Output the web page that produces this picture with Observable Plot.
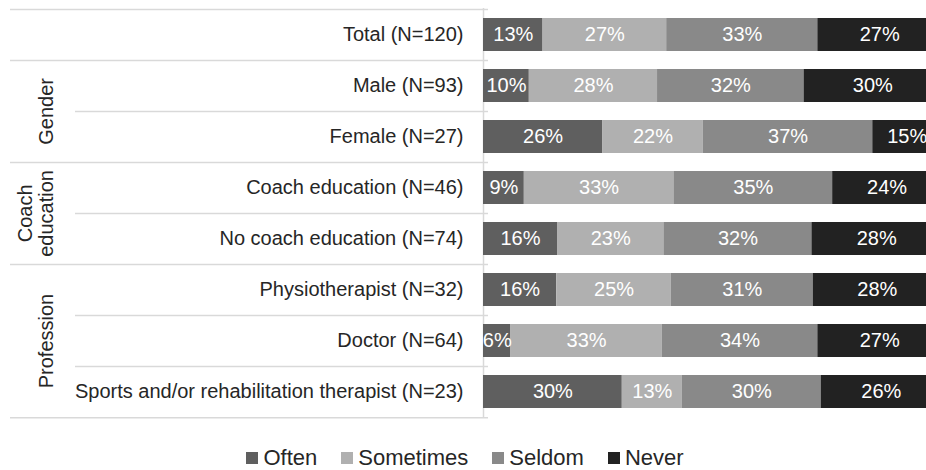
<!DOCTYPE html>
<html>
<head>
<meta charset="utf-8">
<script src="https://cdn.jsdelivr.net/npm/d3@7"></script>
<script src="https://cdn.jsdelivr.net/npm/@observablehq/plot@0.6"></script>
<style>
  html, body { margin: 0; padding: 0; background: white; }
  #wrap { width: 926px; overflow: hidden; font-family: "Liberation Sans", Arial, sans-serif; color: #262626; }
  #legend { display: flex; justify-content: center; align-items: center; margin-top: 17px; font-size: 22px; line-height: 22px; height: 22px; padding-left: 4px; }
  #legend .item { display: inline-flex; align-items: center; margin-right: 24px; }
  #legend .item:last-child { margin-right: 0; }
  #legend .sw { display: inline-block; width: 12px; height: 12px; margin-right: 5px; }
</style>
</head>
<body>
<div id="wrap"><div id="chart"></div><div id="legend"></div></div>
<script>
// ---- data ----
const categories = [
  "Total (N=120)",
  "Male (N=93)",
  "Female (N=27)",
  "Coach education (N=46)",
  "No coach education (N=74)",
  "Physiotherapist (N=32)",
  "Doctor (N=64)",
  "Sports and/or rehabilitation therapist (N=23)"
];
const groupOf = [null, "Gender", "Gender", "Coach\neducation", "Coach\neducation", "Profession", "Profession", "Profession"];
const responses = ["Often", "Sometimes", "Seldom", "Never"];
const often     = [13, 10, 26,  9, 16, 16,  6, 30];
const sometimes = [27, 28, 22, 33, 23, 25, 33, 13];
const seldom    = [33, 32, 37, 35, 32, 31, 34, 30];
const never     = [27, 30, 15, 24, 28, 28, 27, 26];
const colors = ["#5f5f5f", "#b0b0b0", "#898989", "#222222"];

// ---- layout ----
const W = 926, H = 430, mTop = 8, mBottom = 12, mLeft = 483, mRight = -15;
const step = (H - mTop - mBottom) / categories.length;
const px = p => (p - mLeft) / (W - mRight - mLeft); // pixel -> x-scale value
const gridColor = "#d9d9d9";
const fs = 20;

const series = [often, sometimes, seldom, never];
const rows = [];
categories.forEach((c, i) => responses.forEach((r, j) => rows.push({cat: c, resp: r, value: series[j][i]})));

// separators: top of each row, full width at group boundaries
const seps = categories.map((c, i) => ({cat: c, full: i === 0 || groupOf[i] !== groupOf[i - 1]}));
const bottomSep = [{cat: categories[categories.length - 1], full: true}];

// group labels
const groups = [];
groupOf.forEach((g, i) => {
  if (!g) return;
  let G = groups.find(d => d.name === g);
  if (!G) { G = {name: g, first: i, last: i}; groups.push(G); } else G.last = i;
});
groups.forEach(G => {
  const m = (G.first + G.last) / 2;
  G.half = !Number.isInteger(m);
  G.cat = categories[Math.ceil(m)];
  G.multi = G.name.includes("\n");
});

const chart = Plot.plot({
  width: W, height: H,
  marginTop: mTop, marginBottom: mBottom, marginLeft: mLeft, marginRight: mRight,
  style: {fontFamily: '"Liberation Sans", Arial, sans-serif', fontSize: fs + "px", color: "#262626", background: "white"},
  x: {domain: [0, 1], axis: null},
  y: {domain: categories, paddingInner: 0.35, paddingOuter: 0.175, tickSize: 0, tickPadding: 20, label: null},
  color: {domain: responses, range: colors},
  marks: [
    Plot.ruleY(seps, {y: "cat", x1: d => px(d.full ? 10 : 75), x2: px(488), dy: -step / 2, stroke: gridColor, strokeWidth: 1.5}),
    Plot.ruleY(bottomSep, {y: "cat", x1: d => px(10), x2: px(488), dy: step / 2, stroke: gridColor, strokeWidth: 1.5}),
    Plot.ruleX([0], {stroke: gridColor, strokeWidth: 1.5}),
    Plot.barX(rows, Plot.stackX({x: "value", y: "cat", fill: "resp", order: responses, offset: "normalize"})),
    Plot.text(rows, Plot.stackX({x: "value", y: "cat", z: "resp", order: responses, offset: "normalize",
      text: d => d.value + "%", fill: "white", fontSize: fs, clip: true})),
    Plot.text(groups.filter(d => d.half), {x: d => px(d.multi ? 35 : 46), y: "cat", text: "name", dy: -step / 2,
      rotate: -90, textAnchor: "middle", lineAnchor: "middle", lineHeight: 1.05, fontSize: fs, fill: "#262626"}),
    Plot.text(groups.filter(d => !d.half), {x: d => px(d.multi ? 35 : 46), y: "cat", text: "name",
      rotate: -90, textAnchor: "middle", lineAnchor: "middle", lineHeight: 1.05, fontSize: fs, fill: "#262626"})
  ]
});
document.getElementById("chart").appendChild(chart);

// legend
const leg = d3.select("#legend");
responses.forEach((r, j) => {
  const it = leg.append("span").attr("class", "item");
  it.append("span").attr("class", "sw").style("background", colors[j]);
  it.append("span").text(r);
});
</script>
</body>
</html>
